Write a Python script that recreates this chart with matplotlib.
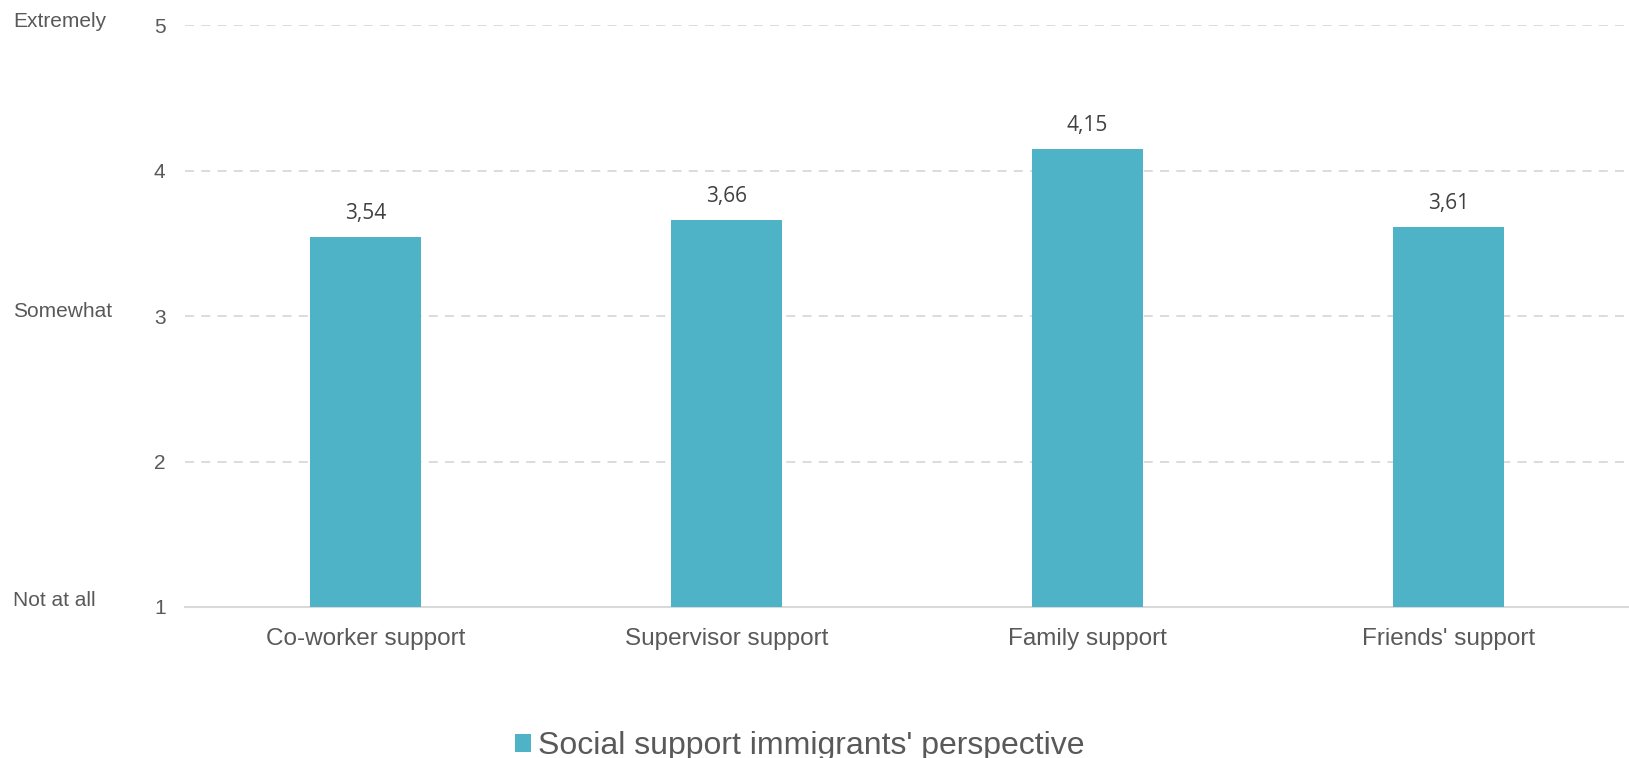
import matplotlib
matplotlib.use("Agg")
import matplotlib.pyplot as plt
from matplotlib.patches import Patch
from matplotlib.transforms import blended_transform_factory

categories = ["Co-worker support", "Supervisor support", "Family support", "Friends' support"]
values = [3.54, 3.66, 4.15, 3.61]
series_name = "Social support immigrants' perspective"
yticks = [1, 2, 3, 4, 5]
scale_labels = ["Extremely", "Somewhat", "Not at all"]
scale_label_levels = [5, 3, 1]

bar_color = "#4FB3C8"
text_color = "#595959"
grid_color = "#D9D9D9"

plt.rcParams["font.family"] = ["Liberation Sans", "DejaVu Sans"]

fig = plt.figure(figsize=(16.29, 7.58), dpi=100)
ax = fig.add_axes([185/1629, 1-607/758, 1-185/1629, (607-25)/758])

x = list(range(len(categories)))
bars = ax.bar(x, values, width=0.31, color=bar_color, zorder=3)
ax.set_xlim(-0.5, len(categories)-0.5)
ax.set_ylim(1, 5)
ax.set_yticks(yticks)
ax.set_yticklabels([str(t) for t in yticks], fontsize=15, color=text_color)
ax.set_xticks(x)
ax.set_xticklabels(categories, fontsize=17.5, color=text_color)
ax.tick_params(axis="both", length=0)
ax.tick_params(axis="y", pad=14)
ax.tick_params(axis="x", pad=15)

for s in ["top", "right", "left"]:
    ax.spines[s].set_visible(False)
ax.spines["bottom"].set_color(grid_color)
ax.spines["bottom"].set_linewidth(1.5)
ax.yaxis.grid(True, color=grid_color, linestyle=(0, (5, 4)), linewidth=1.3, zorder=0)
ax.set_axisbelow(True)

for b, v in zip(bars, values):
    ax.annotate(f"{v:.2f}".replace(".", ","), (b.get_x()+b.get_width()/2, v),
                xytext=(0, 17), textcoords="offset points", ha="center", va="center",
                fontsize=15, color="#404040", family=["Open Sans", "DejaVu Sans"])

tr = blended_transform_factory(fig.transFigure, ax.transData)
for lab, val, off in zip(scale_labels, scale_label_levels, [2.5, 3.5, 5]):
    ax.annotate(lab, (13/1629, val), xycoords=tr, xytext=(0, off), textcoords="offset points",
                ha="left", va="center", fontsize=15, color=text_color)

handle = Patch(facecolor=bar_color, edgecolor="none")
fig.legend([handle], [series_name], loc="center", bbox_to_anchor=(0.491, 1-746/758),
           frameon=False, fontsize=23, handlelength=0.5, handleheight=0.5,
           handletextpad=0.22, labelcolor=text_color)

fig.savefig("out.png", dpi=100, facecolor="white")
